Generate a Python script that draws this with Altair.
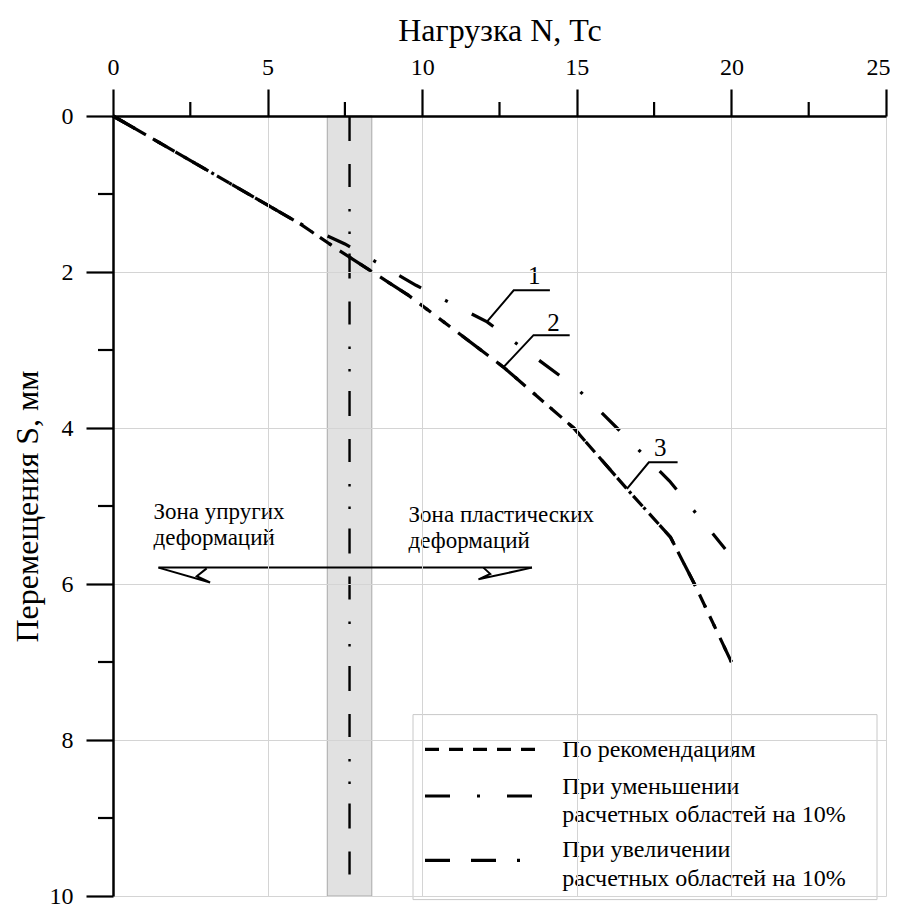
import altair as alt
import pandas as pd

# ---------------- data ----------------
series_names = [
    "По рекомендациям",
    "При уменьшении\n расчетных областей на 10%",
    "При увеличении\n расчетных областей на 10%",
]
load_rec = [0.0, 6.0, 7.3, 9.56, 12.63, 14.9, 16.62, 18.03, 18.83, 20.0]
disp_rec = [0.0, 1.37, 1.72, 2.30, 3.22, 4.00, 4.78, 5.40, 6.02, 7.00]
load_dec = [0.0, 6.0, 7.5, 9.8, 12.1, 15.0, 16.3, 18.0, 19.8]
disp_dec = [0.0, 1.37, 1.64, 2.17, 2.64, 3.49, 4.00, 4.68, 5.55]
load_inc = [0.0, 6.0, 7.3, 9.56, 12.63, 14.9, 16.62, 18.03, 18.83, 20.0]
disp_inc = [0.0, 1.37, 1.72, 2.30, 3.22, 4.00, 4.78, 5.40, 6.02, 7.00]

x_ticks = [0, 5, 10, 15, 20, 25]
x_minor = [2.5, 7.5, 12.5, 17.5, 22.5]
y_ticks = [0, 2, 4, 6, 8, 10]
y_minor = [1, 3, 5, 7, 9]

band_load = [6.93, 8.37]
band_disp = [0, 10]
limit_load = [7.65]

# numbered call-outs
num_text = ["1", "2", "3"]
num_x = [13.62, 14.25, 17.70]
num_y = [2.05, 2.66, 4.26]
lead1 = [(12.09, 2.64), (12.96, 2.235), (14.13, 2.235)]
lead2 = [(12.63, 3.22), (13.60, 2.81), (14.77, 2.81)]
lead3 = [(16.62, 4.78), (17.33, 4.44), (18.26, 4.44)]
# zone arrow
arrow_main = [(1.47, 5.79), (13.55, 5.79)]
arrow_left = [(1.47, 5.79), (3.14, 5.98), (2.71, 5.90), (3.03, 5.80)]
arrow_right = [(13.55, 5.79), (11.82, 5.94), (12.20, 5.87), (11.98, 5.79)]
zone_text = ["Зона упругих\nдеформаций", "Зона пластических\nдеформаций"]
zone_x = [1.31, 9.56]
zone_y = [5.17, 5.21]

# ---------------- tables ----------------
rows = []
for name, xs, ys in zip(series_names, [load_rec, load_dec, load_inc], [disp_rec, disp_dec, disp_inc]):
    for i, (a, b) in enumerate(zip(xs, ys)):
        rows.append({"N": a, "S": b, "series": name, "k": i})
curves = pd.DataFrame(rows)

poly_rows = []
for g, pts in enumerate([lead1, lead2, lead3, arrow_main, arrow_left, arrow_right]):
    for i, (a, b) in enumerate(pts):
        poly_rows.append({"N": a, "S": b, "g": g, "k": i})
polys = pd.DataFrame(poly_rows)

FONT = "Times New Roman, Liberation Serif, DejaVu Serif, serif"


def X(field):
    return alt.X(
        f"{field}:Q",
        scale=alt.Scale(domain=[0, 25], nice=False, zero=False),
        axis=alt.Axis(
            orient="top", values=x_ticks, tickSize=27, tickWidth=2.2, tickColor="black",
            domainColor="black", domainWidth=2.5, labelFont=FONT, labelFontSize=24,
            labelColor="black", labelBaseline="alphabetic", labelPadding=15,
            labelAlign={"condition": {"test": "datum.value == 25", "value": "right"}, "value": "center"},
            labelOffset={"condition": {"test": "datum.value == 25", "value": 4}, "value": 0},
            labelFlush=False, labelOverlap=False,
            grid=True, gridColor="#d4d4d4", gridWidth=1,
            title="Нагрузка N, Тс", titleFont=FONT, titleFontSize=32,
            titleFontWeight="normal", titleColor="black", titleBaseline="alphabetic",
            titleX=386.5, titleY=-75.5, zindex=1,
        ),
    )


def Y(field):
    return alt.Y(
        f"{field}:Q",
        scale=alt.Scale(domain=[0, 10], nice=False, zero=False, reverse=True),
        axis=alt.Axis(
            orient="left", values=y_ticks, tickSize=27, tickWidth=2.2, tickColor="black",
            domainColor="black", domainWidth=2.5, labelFont=FONT, labelFontSize=24,
            labelColor="black", labelBaseline="middle", labelAlign="right", labelPadding=13,
            labelFlush=False, labelOverlap=False,
            grid=True, gridColor="#d4d4d4", gridWidth=1,
            title="Перемещения S, мм", titleFont=FONT, titleFontSize=32,
            titleFontWeight="normal", titleColor="black", titleBaseline="alphabetic",
            titleAngle=270, titleX=-76, titleY=390, zindex=1,
        ),
    )


band = alt.Chart(pd.DataFrame({"x1": [band_load[0]], "x2": [band_load[1]],
                               "y1": [band_disp[0]], "y2": [band_disp[1]]})).mark_rect(
    fill="#e1e1e1", stroke="#a8a8a8", strokeWidth=1
).encode(x=X("x1"), x2="x2", y=Y("y1"), y2="y2")

vline = alt.Chart(pd.DataFrame({"vx": limit_load, "y1": [band_disp[0]], "y2": [band_disp[1]]})).mark_rule(
    color="black", strokeWidth=2.4,
    strokeDash=[25, 23, 23, 22, 2.5, 20, 2.5, 19.5],
).encode(x=X("vx"), y=Y("y1"), y2="y2")

dash_range = [[14, 10], [25, 27, 3, 27], [25, 21, 25, 21, 3, 18.5, 3, 21]]

lines = alt.Chart(curves).mark_line(color="black", strokeWidth=3.2).encode(
    x=X("N"), y=Y("S"),
    strokeDash=alt.StrokeDash(
        "series:N", scale=alt.Scale(domain=series_names, range=dash_range), legend=None
    ),
    order="k:Q",
)

annot = alt.Chart(polys).mark_line(color="black", strokeWidth=2).encode(
    x=X("N"), y=Y("S"), detail="g:N", order="k:Q"
)

nums = alt.Chart(pd.DataFrame({"t": num_text, "N": num_x, "S": num_y})).mark_text(
    font=FONT, fontSize=25, color="black", align="center", baseline="middle"
).encode(x=X("N"), y=Y("S"), text="t:N")

zones = alt.Chart(pd.DataFrame({"t": zone_text, "N": zone_x, "S": zone_y})).mark_text(
    font=FONT, fontSize=23, color="black", align="left", baseline="alphabetic",
    lineBreak="\n", lineHeight=26,
).encode(x=X("N"), y=Y("S"), text="t:N")

xminor = alt.Chart(pd.DataFrame({"mx": x_minor})).mark_rule(color="black", strokeWidth=2.2).encode(
    x=X("mx"), y=alt.value(0), y2=alt.value(-14)
)
yminor = alt.Chart(pd.DataFrame({"my": y_minor})).mark_rule(color="black", strokeWidth=2.2).encode(
    y=Y("my"), x=alt.value(0), x2=alt.value(-15)
)

# ---------------- legend (drawn as a key box in pixel space) ----------------
legend_layers = [
    alt.Chart(pd.DataFrame({"s": ["box"]})).mark_rect(
        fill="white", stroke="#c8c8c8", strokeWidth=1
    ).encode(x=alt.value(300), x2=alt.value(764), y=alt.value(598.6), y2=alt.value(783.6))
]
sym_y = [633.3, 680.0, 744.3]
txt_y = [634.3, 671.0, 734.3]
for name, dash, sy, ty in zip(series_names, dash_range, sym_y, txt_y):
    d = pd.DataFrame({"series": [name]})
    legend_layers.append(
        alt.Chart(d).mark_rule(color="black", strokeWidth=3.2, strokeDash=dash).encode(
            x=alt.value(312), x2=alt.value(425), y=alt.value(sy)
        )
    )
    legend_layers.append(
        alt.Chart(d).mark_text(
            font=FONT, fontSize=24, color="black", align="left", baseline="middle",
            lineBreak="\n", lineHeight=28.3,
        ).encode(x=alt.value(449.3), y=alt.value(ty), text="series:N")
    )

chart = alt.layer(band, vline, lines, annot, nums, zones, xminor, yminor, *legend_layers).properties(
    width=773, height=780,
    padding={"left": 105, "top": 108, "right": 4, "bottom": 12},
    autosize=alt.AutoSizeParams(type="none"),
    background="white",
).configure_view(stroke=None)

chart.save("out.html", embed_options={"renderer": "svg", "actions": False})
